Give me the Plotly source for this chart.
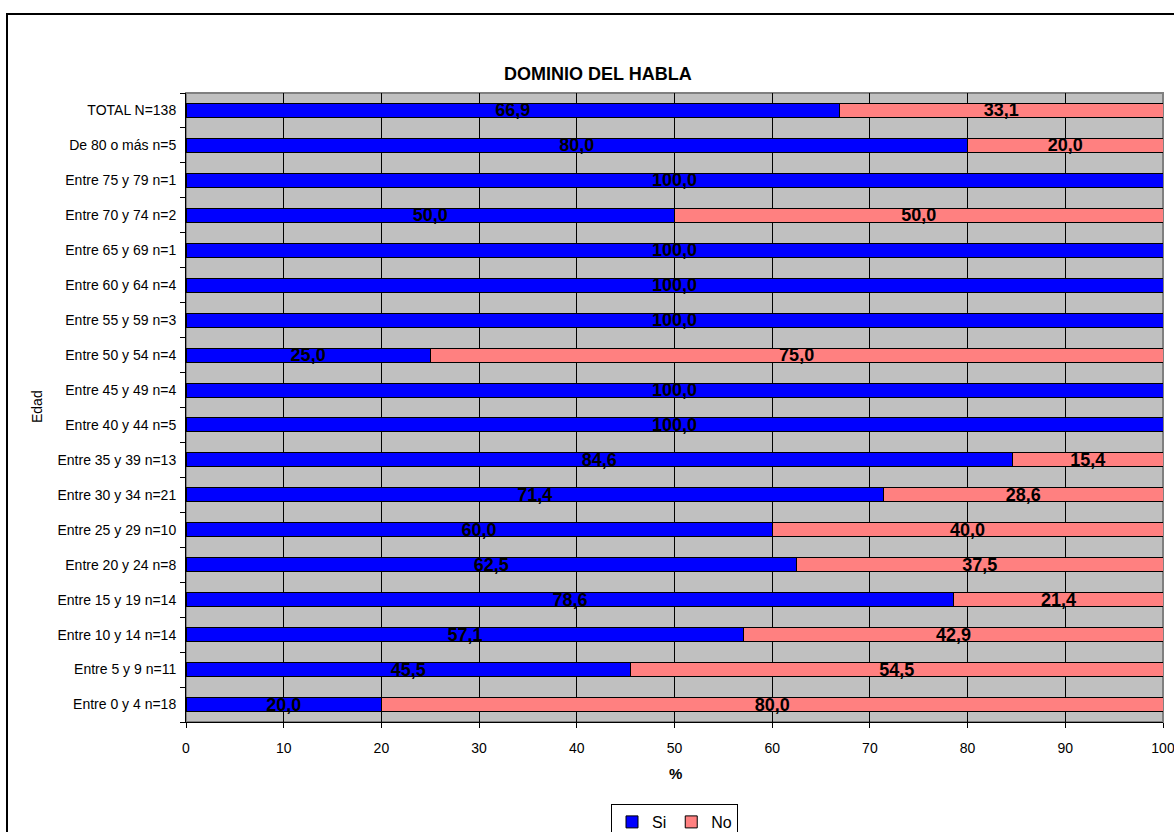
import plotly.graph_objects as go

# Age groups, bottom to top as drawn
categorias = [
    "Entre 0 y 4 n=18", "Entre 5 y 9 n=11", "Entre 10 y 14 n=14", "Entre 15 y 19 n=14",
    "Entre 20 y 24 n=8", "Entre 25 y 29 n=10", "Entre 30 y 34 n=21", "Entre 35 y 39 n=13",
    "Entre 40 y 44 n=5", "Entre 45 y 49 n=4", "Entre 50 y 54 n=4", "Entre 55 y 59 n=3",
    "Entre 60 y 64 n=4", "Entre 65 y 69 n=1", "Entre 70 y 74 n=2", "Entre 75 y 79 n=1",
    "De 80 o más n=5", "TOTAL N=138",
]
si = [20.0, 45.5, 57.1, 78.6, 62.5, 60.0, 71.4, 84.6, 100.0, 100.0, 25.0, 100.0,
      100.0, 100.0, 50.0, 100.0, 80.0, 66.9]
no = [80.0, 54.5, 42.9, 21.4, 37.5, 40.0, 28.6, 15.4, 0.0, 0.0, 75.0, 0.0,
      0.0, 0.0, 50.0, 0.0, 20.0, 33.1]
x_ticks = [0, 10, 20, 30, 40, 50, 60, 70, 80, 90, 100]

FONT = "Liberation Sans, Arial, sans-serif"


def etiqueta(v):
    return f"{v:.1f}".replace(".", ",") if v > 0 else ""


fig = go.Figure()
for nombre, valores, color in [("Si", si, "#0000FF"), ("No", no, "#FF8080")]:
    fig.add_trace(go.Bar(
        y=categorias, x=valores, name=nombre, orientation="h",
        marker=dict(color=color, line=dict(color="#000000", width=1)),
        text=[etiqueta(v) for v in valores],
        textposition="inside", insidetextanchor="middle",
        constraintext="none",
        textfont=dict(family=FONT, size=18, color="#000000", weight="bold"),
        cliponaxis=False,
    ))

# plot area geometry in pixels
L, R, T, B = 186, 1163, 93, 722
W, H = R - L, B - T


def px_x(p):
    return (p - L) / W


def px_y(p):
    return (B - p) / H


fig.update_layout(
    width=1174, height=832,
    margin=dict(l=L, r=1174 - R, t=T, b=832 - B, autoexpand=False),
    paper_bgcolor="#FFFFFF", plot_bgcolor="#C0C0C0",
    barmode="stack", bargap=0.6,
    font=dict(family=FONT, size=14, color="#000000"),
    showlegend=True,
    legend=dict(
        orientation="h", x=0.5, xanchor="center", y=px_y(804), yanchor="top",
        traceorder="normal",
        bordercolor="#000000", borderwidth=1, bgcolor="#FFFFFF",
        font=dict(family=FONT, size=16), itemwidth=30,
    ),
    xaxis=dict(
        range=[0, 100], tickvals=x_ticks, ticks="outside", ticklen=5,
        tickcolor="#000000", showgrid=True, gridcolor="#000000", gridwidth=1,
        showline=True, linecolor="#000000", linewidth=1, zeroline=False,
        tickfont=dict(size=14), ticklabelstandoff=8, ticklabeloverflow="allow",
    ),
    yaxis=dict(
        type="category", categoryorder="array", categoryarray=categorias,
        ticks="outside", ticklen=5, tickson="boundaries", tickcolor="#000000",
        showline=True, linecolor="#000000", linewidth=1, showgrid=False,
        tickfont=dict(size=14), ticklabelstandoff=6,
    ),
    shapes=[
        # plot area frame
        dict(type="rect", xref="paper", yref="paper", x0=0, x1=1, y0=0, y1=1,
             line=dict(color="#808080", width=2), layer="below"),
        # chart frame
        dict(type="rect", xref="paper", yref="paper",
             x0=px_x(7), x1=px_x(1180), y0=px_y(840), y1=px_y(14),
             line=dict(color="#000000", width=2)),
    ],
    annotations=[
        dict(text="<b>DOMINIO DEL HABLA</b>", xref="paper", yref="paper",
             x=px_x(598), y=px_y(74), xanchor="center", yanchor="middle",
             showarrow=False, font=dict(size=18)),
        dict(text="<b>%</b>", xref="paper", yref="paper",
             x=px_x(675), y=px_y(773), xanchor="center", yanchor="middle",
             showarrow=False, font=dict(size=15)),
        dict(text="Edad", xref="paper", yref="paper", textangle=-90,
             x=px_x(37), y=px_y(407), xanchor="center", yanchor="middle",
             showarrow=False, font=dict(size=14)),
    ],
)

fig.write_html("out.html")
